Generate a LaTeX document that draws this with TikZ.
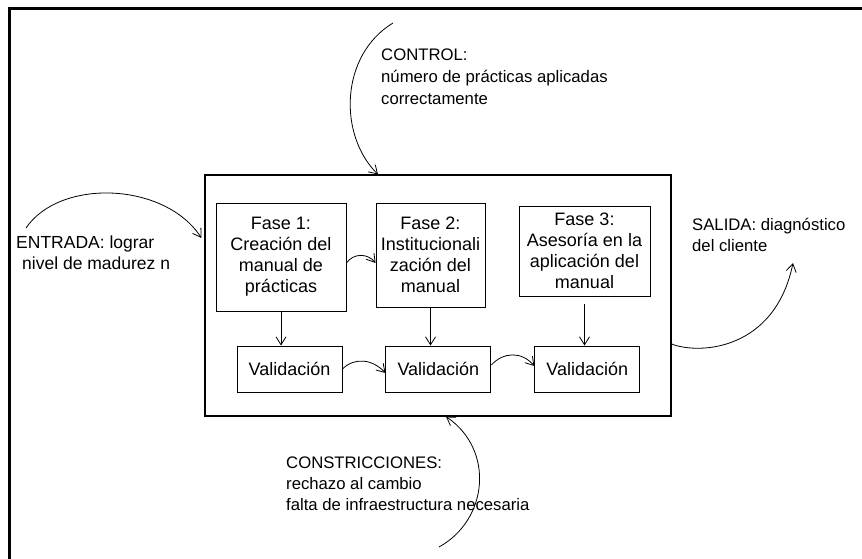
\documentclass[tikz,border=0pt]{standalone}
\usepackage{fontspec}
\setmainfont{Liberation Sans}
\usetikzlibrary{arrows.meta,positioning}
\tikzset{
  >={Straight Barb[length=8pt,width=10pt]},
  fase/.style  ={draw, line width=0.9pt, inner sep=0pt, align=center, font=\fontsize{18}{21}\selectfont},
  valid/.style ={draw, line width=0.9pt, inner sep=0pt, minimum width=105pt, minimum height=46pt, font=\fontsize{18}{21}\selectfont},
  proc/.style  ={draw, line width=1.1pt, inner sep=0pt, minimum width=466pt, minimum height=241pt},
  arr/.style   ={->, line width=0.8pt},
  lbl/.style   ={inner sep=0pt, anchor=base west, align=left, font=\fontsize{16.7}{21}\selectfont},
}

\begin{document}
\begin{tikzpicture}[x=1pt, y=-1pt]
  \useasboundingbox (0,0) rectangle (862,559);
  % page frame
  \draw[line width=3pt] (862,9) -- (9,9) -- (9,559);

  % process box with its phases
  \node[proc] (main) at (438,295.5) {};
  \node[fase, minimum width=130pt, minimum height=108pt] (f1) at (281,257) {Fase 1:\\Creación del\\manual de\\prácticas};
  \node[fase, minimum width=109pt, minimum height=104pt] (f2) at (430.5,255) {Fase 2:\\Institucionali\\zación del\\manual};
  \node[fase, minimum width=131pt, minimum height=90pt] (f3) at (584.5,251) {Fase 3:\\Asesoría en la\\aplicación del\\manual};
  \node[valid] (v1) at (289.5,369) {Validación};
  \node[valid, right=43pt of v1] (v2) {Validación};
  \node[valid, right=43pt of v2] (v3) {Validación};

  \draw[arr] (f1.south) -- (f1.south |- v1.north);
  \draw[arr] (f2.south) -- (f2.south |- v2.north);
  \draw[arr] ([yshift=-8pt]f3.south) -- (f3.south |- v3.north);
  \draw[arr] ([yshift=-6pt]f1.east) .. controls +(7,-10) and +(-8,-10) .. ([yshift=-8pt]f2.west);
  \draw[arr] (v1.east) .. controls +(12,-12) and +(-13,-14) .. ([yshift=-4pt]v2.west);
  \draw[arr] ([yshift=4pt]v2.east) .. controls +(12,-13) and +(-13,-15) .. ([yshift=3pt]v3.west);

  % inputs, outputs, control and constraints
  \coordinate (cin) at (393,23);
  \coordinate (ein) at (26,228);
  \coordinate (sout) at (793,263);
  \coordinate (kin) at (439,547);
  \draw[arr] (cin) .. controls (340,55) and (338,135) .. ([xshift=-60pt]main.north);
  \draw[arr] (ein) .. controls (60,178) and (165,182) .. ([yshift=57.5pt, xshift=-3pt]main.west);
  \draw[arr] ([yshift=-48.5pt]main.east) .. controls (700,355) and (775,350) .. (sout);
  \draw[arr] (kin) .. controls (488,520) and (495,450) .. ([xshift=8pt]main.south);

  % labels, placed on the baseline of their last line
  \node[lbl, font=\fontsize{16.7}{22}\selectfont] (ctl) at (381,105) {CONTROL:\\número de prácticas aplicadas\\correctamente};
  \node[lbl, font=\fontsize{17.5}{21}\selectfont] (ent) at (16,269) {ENTRADA: lograr\\\hspace*{6pt}nivel de madurez n};
  \node[lbl] (sal) at (692,251) {SALIDA: diagnóstico\\del cliente};
  \node[lbl] (con) at (286,510) {CONSTRICCIONES:\\rechazo al cambio\\falta de infraestructura necesaria};
\end{tikzpicture}
\end{document}
